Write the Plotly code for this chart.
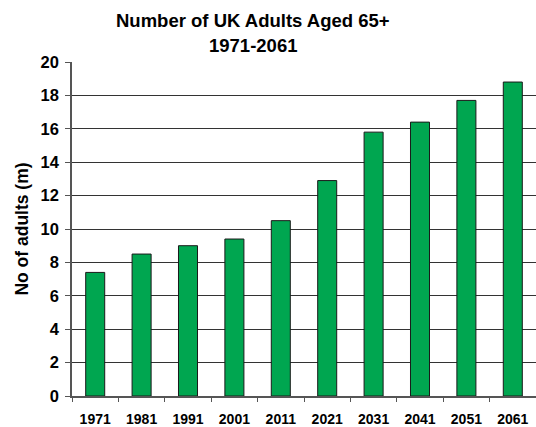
import plotly.graph_objects as go

years = ["1971", "1981", "1991", "2001", "2011", "2021", "2031", "2041", "2051", "2061"]
adults_m = [7.4, 8.5, 9.0, 9.4, 10.5, 12.9, 15.8, 16.4, 17.7, 18.8]
y_ticks = [0, 2, 4, 6, 8, 10, 12, 14, 16, 18, 20]
title_lines = ["Number of UK Adults Aged 65+", "1971-2061"]

font_family = "Liberation Sans, Arial, sans-serif"
plot_h = 427 - 62 - 31

fig = go.Figure(go.Bar(
    x=years, y=adults_m,
    marker=dict(color="#00A650", line=dict(color="#1a1a1a", width=1)),
))

fig.update_layout(
    width=536, height=427,
    margin=dict(l=72, r=0, t=62, b=31),
    paper_bgcolor="white", plot_bgcolor="white",
    bargap=0.59,
    showlegend=False,
    font=dict(family=font_family, color="black"),
)

for i, (line, ypx) in enumerate(zip(title_lines, [20, 45])):
    fig.add_annotation(
        text="<b>" + line + "</b>", showarrow=False,
        xref="paper", x=(253 - 72) / 464, xanchor="center",
        yref="paper", y=1 + (62 - ypx) / plot_h, yanchor="middle",
        font=dict(family=font_family, size=18.5, color="black"),
    )

fig.update_xaxes(
    tickvals=years, ticktext=["<b>" + y + "</b>" for y in years],
    showline=True, linecolor="#555", linewidth=1.5,
    ticks="outside", ticklen=4, tickcolor="#555", tickson="boundaries",
    tickfont=dict(family=font_family, size=14, color="black"),
    ticklabelstandoff=9,
    showgrid=False, automargin=False,
)
fig.update_yaxes(
    range=[0, 20], tickvals=y_ticks, ticktext=["<b>%d</b>" % v for v in y_ticks],
    showline=True, linecolor="#555", linewidth=1.5,
    ticks="outside", ticklen=5, tickcolor="#555",
    showgrid=True, gridcolor="#333", gridwidth=1,
    tickfont=dict(family=font_family, size=16.5, color="black"),
    ticklabelstandoff=3,
    title=dict(text="<b>No of adults (m)</b>", font=dict(family=font_family, size=17.5, color="black"), standoff=7),
    zeroline=False, automargin=False,
)

fig.write_html("out.html")
